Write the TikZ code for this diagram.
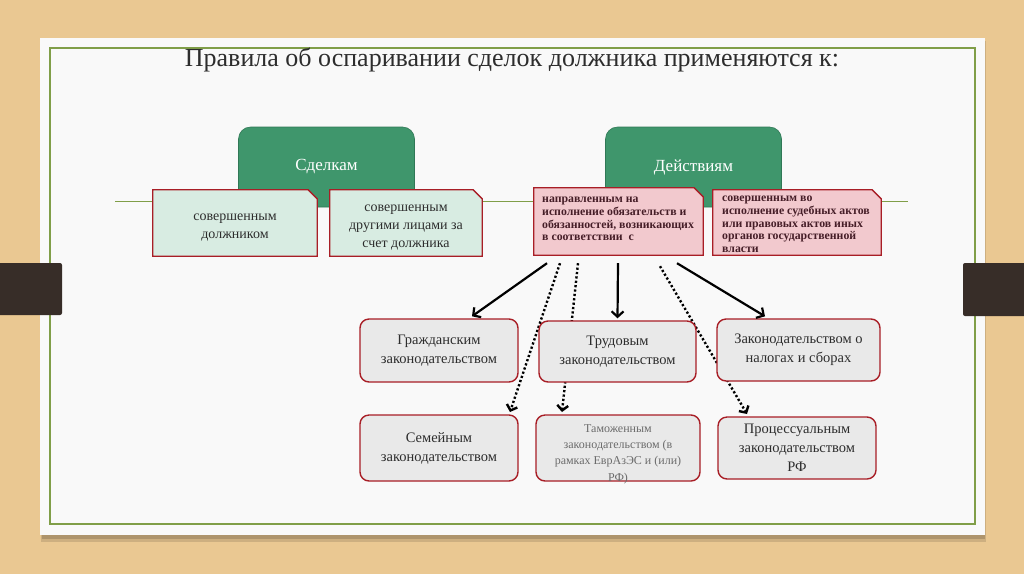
\documentclass[tikz,border=0pt]{standalone}
\usepackage{fontspec}
\setmainfont{Liberation Serif}
\usetikzlibrary{arrows.meta,calc}
\definecolor{wood}{RGB}{234,200,146}
\definecolor{card}{RGB}{249,249,249}
\definecolor{frameg}{RGB}{128,158,72}
\definecolor{barc}{RGB}{55,45,40}
\definecolor{tabg}{RGB}{63,150,108}
\definecolor{tabd}{RGB}{48,120,86}
\definecolor{lgreen}{RGB}{216,236,226}
\definecolor{pinkf}{RGB}{242,201,206}
\definecolor{redb}{RGB}{168,30,38}
\definecolor{grayf}{RGB}{233,233,233}
\definecolor{txt}{RGB}{45,45,45}
\definecolor{pinkt}{RGB}{70,30,40}
\tikzset{
  tab/.style={rectangle, rounded corners=12pt, fill=tabg, draw=tabd, line width=0.6pt,
    minimum width=176pt, minimum height=80pt, text=white, font=\fontsize{17}{20}\selectfont},
  boxarea/.style={rectangle, inner sep=0pt},
  gtext/.style={align=center, text=txt, font=\fontsize{14}{18}\selectfont},
  ptext/.style={align=left, anchor=north west, inner sep=0pt, text=pinkt,
    font=\bfseries\fontsize{11.8}{12.7}\selectfont},
  graybox/.style={rectangle, rounded corners=9pt, fill=grayf, draw=redb, line width=1.4pt,
    align=center, text=txt, font=\fontsize{14.5}{19}\selectfont, inner sep=2pt},
  solidarr/.style={line width=2.2pt, -{Straight Barb[length=5.5pt,width=12pt]}},
  dotarr/.style={line width=2.4pt, dash pattern=on 2.2pt off 2.2pt, -{Straight Barb[length=5pt,width=11pt]}}
}
% chamfered outline with shadow around a named node: #1 node, #2 fill colour
\newcommand\mychamf[2]{%
  \fill[black, opacity=0.22, xshift=2.5pt, yshift=-2.5pt]
    (#1.north west) -- ([xshift=-9pt]#1.north east) -- ([yshift=-9pt]#1.north east)
    -- (#1.south east) -- (#1.south west) -- cycle;
  \filldraw[fill=#2, draw=redb, line width=1.3pt]
    (#1.north west) -- ([xshift=-9pt]#1.north east) -- ([yshift=-9pt]#1.north east)
    -- (#1.south east) -- (#1.south west) -- cycle;}
\begin{document}
\begin{tikzpicture}[x=1pt,y=-1pt]
\useasboundingbox (0,0) rectangle (1024,574);
\fill[wood] (0,0) rectangle (1024,574);
% card with shadow
\fill[black,opacity=0.12] (41,41) rectangle (986,542);
\fill[black,opacity=0.15] (42,42) rectangle (985,539);
\fill[card] (40,38) rectangle (985,535);
\draw[frameg, line width=1.2pt] (50,48) rectangle (975,524);
% side bars
\fill[barc, rounded corners=2pt] (-5,263) rectangle (62,315);
\fill[barc, rounded corners=2pt] (963,263) rectangle (1030,316);
% title
\node[text=txt, font=\fontsize{26}{28}\selectfont] (title) at (512,60) {Правила об оспаривании сделок должника применяются к:};
% horizontal line
\coordinate (hl) at (115,201.5);
\coordinate (hr) at (908,201.5);
\draw[frameg, line width=1.3pt] (hl) -- (hr);
% tabs
\node[tab] (sdelkam) at (326.5,167) {Сделкам};
\node[tab] (deistv) at (693.5,167) {Действиям};
% green sub boxes
\node[boxarea, minimum width=164pt, minimum height=66pt] (own) at (235,223) {};
\mychamf{own}{lgreen}
\node[gtext] (ownt) at (235,228) {совершенным\\должником};
\node[boxarea, minimum width=152pt, minimum height=66pt] (other) at (406,223) {};
\mychamf{other}{lgreen}
\node[gtext] (othert) at (406,228) {совершенным\\другими лицами за\\счет должника};
% pink sub boxes
\node[boxarea, minimum width=169pt, minimum height=67pt] (C) at (618.5,221.5) {};
\mychamf{C}{pinkf}
\node[ptext] (Ct) at (542,197) {направленным на\\исполнение обязательств и\\обязанностей, возникающих\\в соответствии~~с};
\node[boxarea, minimum width=168pt, minimum height=65pt] (D) at (797,222.5) {};
\mychamf{D}{pinkf}
\node[ptext] (Dt) at (722,196) {совершенным во\\исполнение судебных актов\\или правовых актов иных\\органов государственной\\власти};
% target anchors (gray boxes positions)
\coordinate (famN) at (439,415);
\coordinate (cusN) at (618,415);
\coordinate (procN) at (797,417);
% dotted arrows (behind the boxes)
\draw[dotarr] ($(C.south)+(-58.5,8)$) -- ($(famN)+(71,-3)$);
\draw[dotarr] ($(C.south)+(-40.5,8)$) -- ($(cusN)+(-56,-3)$);
\draw[dotarr] ($(C.south)+(41.5,11)$) -- ($(procN)+(-50,-3)$);
% gray boxes
\node[graybox, minimum width=158pt, minimum height=63pt] (civ) at (439,350.5) {Гражданским\\законодательством};
\node[graybox, minimum width=157pt, minimum height=61pt] (lab) at (617.5,351.5) {Трудовым\\законодательством};
\node[graybox, minimum width=163pt, minimum height=62pt] (tax) at (798.5,350) {Законодательством о\\налогах и сборах};
\node[graybox, minimum width=158pt, minimum height=66pt] (fam) at (439,448) {Семейным\\законодательством};
\node[graybox, minimum width=164pt, minimum height=66pt] (cus) at (618,448) {};
\node[text=black!58, align=center, font=\fontsize{12}{16.3}\selectfont] (cust) at (618,454) {Таможенным\\законодательством (в\\рамках ЕврАзЭС и (или)\\РФ)};
\node[graybox, minimum width=158pt, minimum height=62pt] (proc) at (797,448) {Процессуальным\\законодательством\\РФ};
% solid arrows
\draw[solidarr] ($(C.south)+(-71.5,8)$) -- ($(civ.north)+(33,-2)$);
\draw[solidarr] ($(C.south)+(-0.5,8)$) -- ($(lab.north)+(0,-2)$);
\draw[solidarr] ($(C.south)+(58.5,8)$) -- ($(tax.north)+(-33.5,-2)$);
\end{tikzpicture}
\end{document}
